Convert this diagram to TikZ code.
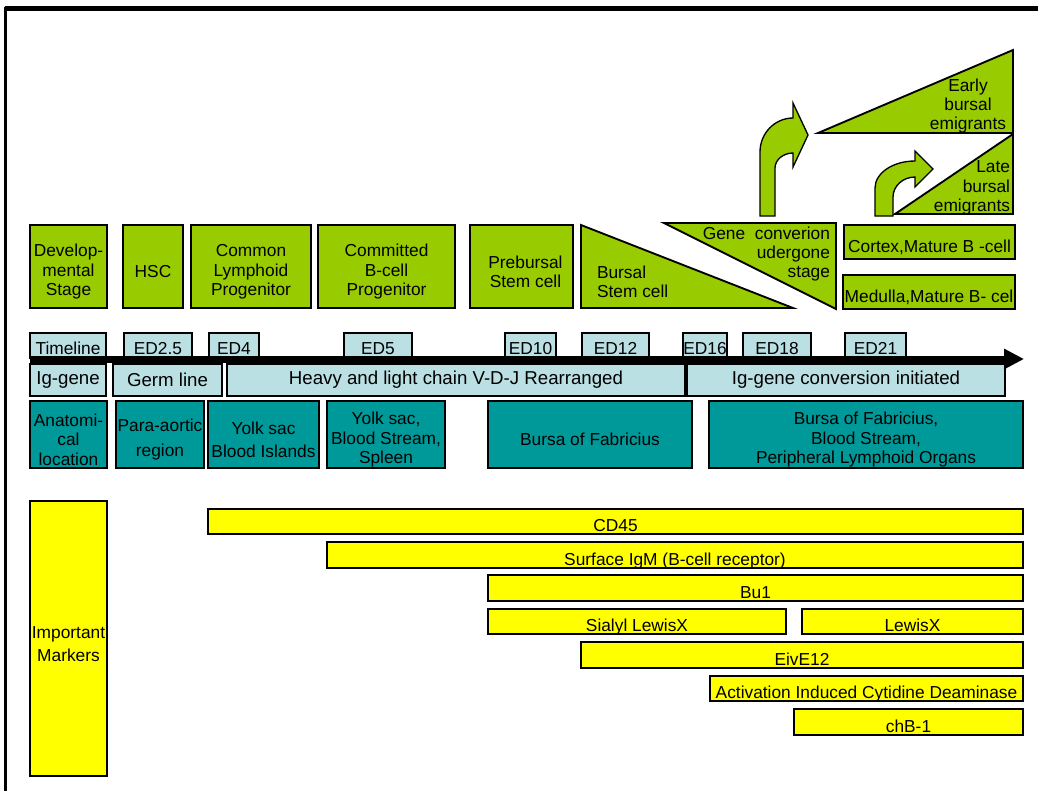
\documentclass[tikz,border=0pt]{standalone}
\usepackage{fontspec}
\setmainfont{Liberation Sans}
\usetikzlibrary{arrows.meta}
\definecolor{lgreen}{RGB}{153,204,0}
\definecolor{lblue}{RGB}{187,224,228}
\definecolor{tealb}{RGB}{0,153,153}
\definecolor{yel}{RGB}{255,255,0}
\newcommand{\dnstrut}{\rule{0pt}{17pt}}
\tikzset{
  shp/.style={draw=black, line width=1.4pt, inner sep=0pt, outer sep=0pt, align=center,
              font=\fontsize{13}{14.6}\selectfont},
  gbox/.style={shp, fill=lgreen},
  tbox/.style={shp, fill=tealb},
  mbox/.style={shp, fill=yel},
  edbox/.style={shp, fill=lblue, text height=14.2pt, text depth=0pt},
  igbox/.style={shp, fill=lblue, font=\fontsize{14}{15}\selectfont},
  ybox/.style={shp, fill=yel, text height=15pt, text depth=0pt},
  gshape/.style={draw=black, line width=1.4pt, fill=lgreen, line join=miter},
  garrow/.style={draw=black, line width=1pt, fill=lgreen, line join=miter},
  lbl/.style={inner sep=0pt, outer sep=0pt, font=\fontsize{13}{14.6}\selectfont},
}
\newcommand{\rbox}[7]{\node[#6, minimum width={(#4-#2)*0.75pt}, minimum height={(#5-#3)*0.75pt}] (#1) at ({(#2+#4)/2},{(#3+#5)/2}) {#7};}
\newcommand{\stbox}[7]{\node[#6, minimum width={(#4-#2)*0.75pt}, minimum height={(#5-#3)*0.75pt}] (#1) at ({(#2+#4)/2},{(#3+#5)/2}) {\dnstrut #7};}
\begin{document}
\begin{tikzpicture}[x=0.75pt,y=-0.75pt]
\useasboundingbox (0,0) rectangle (1038,790);
\clip (0,0) rectangle (1038,790);
\fill[white] (0,0) rectangle (1038,790);
% frame
\draw[line width=3.75pt] (4.5,8.5) -- (1050,8.5);
\draw[line width=2.4pt] (5.5,6.6) -- (5.5,800);

% developmental stage row
\stbox{dev}{30}{225}{107}{308}{gbox}{Develop-\\mental\\Stage}
\stbox{hsc}{123}{225}{183}{308}{gbox}{HSC}
\stbox{clp}{191}{225}{311}{308}{gbox}{Common\\Lymphoid\\Progenitor}
\stbox{cbp}{318}{225}{455}{308}{gbox}{Committed\\B-cell\\Progenitor}
\stbox{pre}{470}{225}{573}{308}{gbox}{\hspace*{6pt}Prebursal\\\hspace*{6pt}Stem cell}
\path[gshape] (581,225) -- (581,308) -- (793,308) -- cycle;
\node[lbl, anchor=west, align=left] (bursal) at (597,282) {Bursal\\Stem cell};
\path[gshape] (664,223) -- (836,223) -- (836,309) -- cycle;
\node[lbl, anchor=east, align=right] (gene) at (830,254) {Gene \ converion\\udergone\\stage};
\stbox{cortex}{844}{225}{1015}{259}{gbox}{Cortex,Mature B -cell}
\stbox{medulla}{843}{275}{1015}{309}{gbox}{Medulla,Mature B- cel}
\path[gshape] (818,133) -- (1013,50) -- (1013,133) -- cycle;
\node[lbl, align=center] (early) at (968,106) {Early\\bursal\\emigrants};
\path[gshape] (895,214) -- (1013,134) -- (1013,214) -- cycle;
\node[lbl, anchor=east, align=right] (late) at (1010,188) {Late\\bursal\\emigrants};
% bent arrows
\path[garrow] (760,216) -- (760,152) .. controls (760,133) and (775,118) .. (793,118)
  -- (793,103) -- (808,135) -- (793,167) -- (793,153)
  .. controls (783,153) and (775,160) .. (775,168) -- (775,216) -- cycle;
\path[garrow] (875,216) -- (875,188) .. controls (875,173) and (893,161) .. (915,161)
  -- (915,151) -- (933,169) -- (915,187) -- (915,177)
  .. controls (903,177) and (893,186) .. (893,197) -- (893,216) -- cycle;

% timeline row
\rbox{timeline}{30}{333}{106}{358}{edbox}{Timeline}
\rbox{ed25}{124}{333}{192}{358}{edbox}{ED2.5}
\rbox{ed4}{209}{333}{259}{358}{edbox}{ED4}
\rbox{ed5}{344}{333}{412}{358}{edbox}{ED5}
\rbox{ed10}{505}{333}{556}{358}{edbox}{ED10}
\rbox{ed12}{582}{333}{649}{358}{edbox}{ED12}
\rbox{ed16}{683}{333}{727}{358}{edbox}{ED16}
\rbox{ed18}{743}{333}{811}{358}{edbox}{ED18}
\rbox{ed21}{845}{333}{906}{358}{edbox}{ED21}
\coordinate (tlstart) at (30,359);
\coordinate (tlend) at (1024,359);
\draw[line width=5.25pt, -{Triangle[length=15pt,width=14.5pt]}] (tlstart) -- (tlend);

% Ig-gene row
\rbox{iggene}{30}{364}{106}{396}{igbox}{Ig-gene}
\rbox{germ}{113}{364}{222}{396}{igbox}{Germ line}
\rbox{heavy}{227}{364}{685}{396}{igbox}{Heavy and light chain V-D-J Rearranged}
\rbox{igconv}{687}{364}{1005}{396}{igbox}{Ig-gene conversion initiated}

% anatomical row
\stbox{anat}{30}{401}{107}{468}{tbox}{Anatomi-\\cal\\location}
\stbox{para}{116}{401}{204}{468}{tbox}{Para-aortic\\[4pt]region}
\stbox{yolk1}{208}{401}{319}{468}{tbox}{Yolk sac\\[3pt]Blood Islands}
\stbox{yolk2}{327}{401}{445}{468}{tbox}{Yolk sac,\\Blood Stream,\\Spleen}
\stbox{bursa1}{488}{401}{692}{468}{tbox}{Bursa of Fabricius}
\stbox{bursa2}{709}{401}{1023}{468}{tbox}{Bursa of Fabricius,\\Blood Stream,\\Peripheral Lymphoid Organs}

% markers
\stbox{markers}{30}{501}{107}{776}{mbox}{Important\\[3pt]Markers}
\rbox{cd45}{208}{509}{1023}{534}{ybox}{CD45}
\rbox{sigm}{327}{542}{1023}{568}{ybox}{Surface IgM (B-cell receptor)}
\rbox{bu1}{488}{575}{1023}{601}{ybox}{Bu1}
\rbox{sialyl}{488}{609}{786}{634}{ybox}{Sialyl LewisX}
\rbox{lewis}{802}{609}{1023}{634}{ybox}{LewisX}
\rbox{eive}{581}{642}{1023}{668}{ybox}{EivE12}
\rbox{aid}{710}{676}{1023}{701}{ybox}{Activation Induced Cytidine Deaminase}
\rbox{chb}{794}{709}{1023}{735}{ybox}{chB-1}
\end{tikzpicture}
\end{document}
